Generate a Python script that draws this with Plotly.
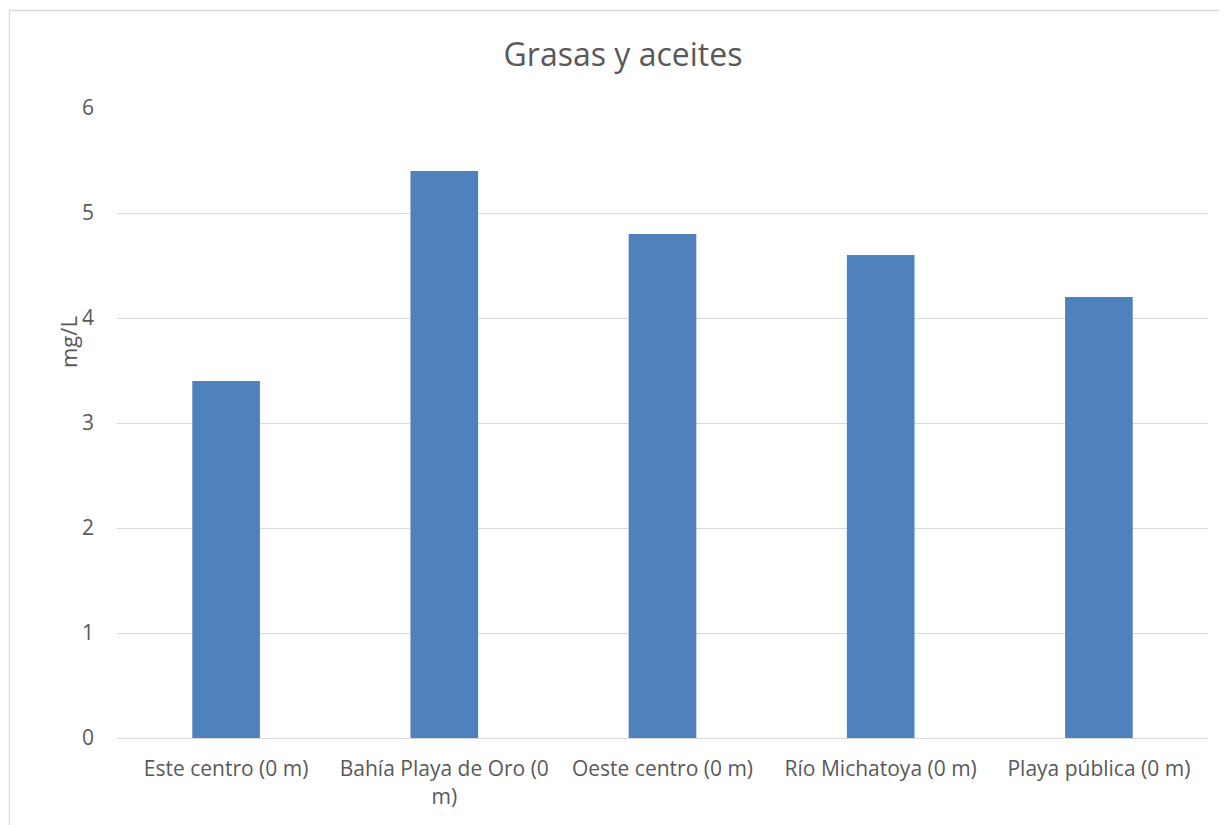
import plotly.graph_objects as go

categories = ["Este centro (0 m)", "Bahía Playa de Oro (0 m)", "Oeste centro (0 m)",
              "Río Michatoya (0 m)", "Playa pública (0 m)"]
tick_labels = ["Este centro (0 m)", "Bahía Playa de Oro (0<br>m)", "Oeste centro (0 m)",
               "Río Michatoya (0 m)", "Playa pública (0 m)"]
values = [3.4, 5.4, 4.8, 4.6, 4.2]
y_ticks = [0, 1, 2, 3, 4, 5, 6]

# page body has an 8px margin, so the figure starts at (8, 8) on screen
OFF = 8
W, H = 1227 - OFF, 825 - OFF
L, R, T, B = 117 - OFF, 19, 108 - OFF, 87
pw, ph = W - L - R, H - T - B

fig = go.Figure(go.Bar(x=categories, y=values, marker_color="#4F81BD",
                       marker_line_width=0, width=0.31))

fig.update_layout(
    width=W, height=H,
    margin=dict(l=L, r=R, t=T, b=B),
    paper_bgcolor="white", plot_bgcolor="white",
    font=dict(family="Open Sans", color="#595959", size=21),
    title=dict(text="Grasas y aceites", x=(623 - OFF - L) / pw, xref="paper", xanchor="center",
               y=1 - (55 - OFF) / H, yanchor="middle", font=dict(size=32, color="#595959")),
    showlegend=False,
    shapes=[dict(type="rect", xref="paper", yref="paper",
                 x0=(9.5 - OFF - L) / pw, x1=1.2, y0=-0.3, y1=(H - B - (10.5 - OFF)) / ph,
                 line=dict(color="#D9D9D9", width=1.3), layer="below")],
    annotations=[dict(text="mg/L", xref="paper", yref="paper",
                      x=(68 - OFF - L) / pw, y=(H - B - (342 - OFF)) / ph,
                      xanchor="center", yanchor="middle", textangle=-90, showarrow=False,
                      font=dict(size=22, color="#595959"))],
)
fig.update_xaxes(tickvals=categories, ticktext=tick_labels, showgrid=False,
                 showline=True, linecolor="#D9D9D9", linewidth=1.3, ticks="",
                 ticklabelstandoff=12, tickfont=dict(size=21, color="#595959"))
fig.update_yaxes(range=[0, 6], tickvals=y_ticks, showgrid=True, gridcolor="#D9D9D9",
                 gridwidth=1.3, zeroline=False, ticks="", showline=False,
                 ticklabelstandoff=22, tickfont=dict(size=21, color="#595959"))

fig.write_html("out.html")
